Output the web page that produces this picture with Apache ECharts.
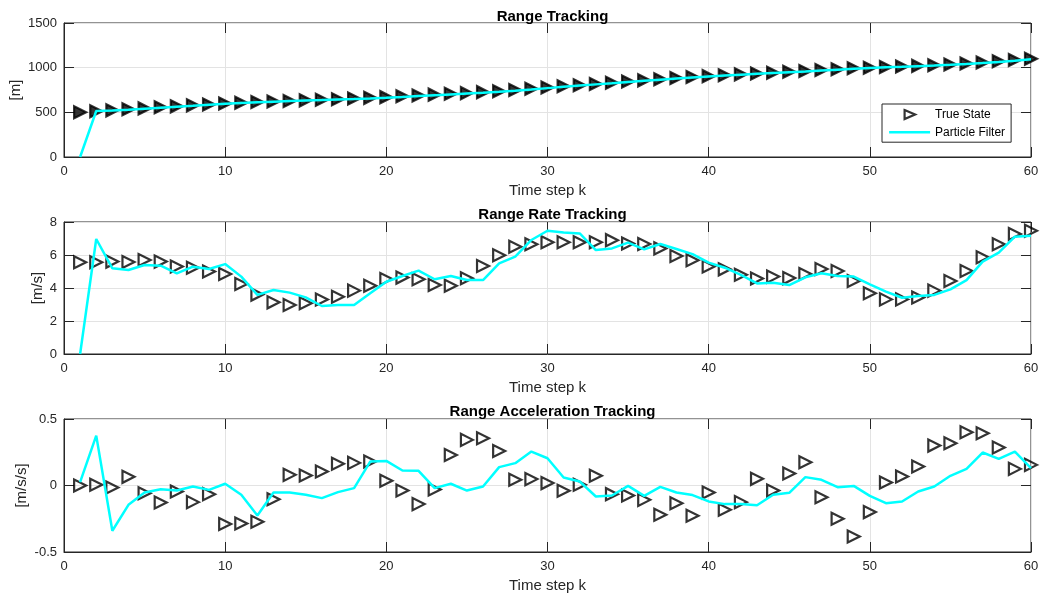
<!DOCTYPE html>
<html><head><meta charset="utf-8">
<script src="https://cdn.jsdelivr.net/npm/echarts@6/dist/echarts.min.js"></script>
<style>html,body{margin:0;padding:0;background:#fff}#c{width:1042px;height:600px}</style>
</head><body><div id="c"></div>
<script>
const steps=[1,2,3,4,5,6,7,8,9,10,11,12,13,14,15,16,17,18,19,20,21,22,23,24,25,26,27,28,29,30,31,32,33,34,35,36,37,38,39,40,41,42,43,44,45,46,47,48,49,50,51,52,53,54,55,56,57,58,59,60];
const rangeTrue=[500,512,522,534,544,556,567,578,588,598,607,615,621,627,634,640,646,654,662,670,680,689,698,707,715,726,737,750,763,777,791,804,818,832,846,858,871,884,895,905,916,925,935,944,954,963,973,983,993,1000,1007,1013,1020,1028,1036,1047,1058,1071,1085,1100];
const rangePF=[0,515,520,530,541,552,563,573,584,595,604,612,619,626,632,637,643,649,656,664,673,683,692,701,710,719,730,742,756,771,786,800,813,826,840,853,866,879,891,902,913,922,931,940,949,958,968,978,988,997,1004,1010,1017,1024,1032,1041,1052,1064,1078,1093];
const rateTrue=[5.56,5.56,5.6,5.58,5.7,5.6,5.3,5.23,5.0,4.85,4.24,3.6,3.13,2.97,3.07,3.3,3.47,3.84,4.14,4.55,4.63,4.53,4.18,4.14,4.59,5.33,5.98,6.5,6.65,6.77,6.77,6.77,6.77,6.9,6.7,6.67,6.4,5.94,5.68,5.3,5.13,4.8,4.57,4.69,4.6,4.85,5.15,5.03,4.42,3.68,3.31,3.31,3.43,3.84,4.42,5.03,5.86,6.65,7.27,7.47];
const ratePF=[0,6.97,5.19,5.09,5.39,5.35,4.89,5.29,5.15,5.45,4.69,3.58,3.88,3.72,3.43,2.91,2.97,2.97,3.68,4.38,4.73,5.05,4.53,4.73,4.48,4.48,5.49,5.9,6.91,7.47,7.37,7.31,6.3,6.4,6.75,6.34,6.67,6.36,6.05,5.54,5.23,4.79,4.28,4.32,4.18,4.65,4.89,4.73,4.69,4.22,3.78,3.41,3.52,3.58,3.92,4.48,5.6,6.14,7.11,7.17];
const accTrue=[0.0,0.005,-0.015,0.065,-0.058,-0.128,-0.045,-0.125,-0.065,-0.29,-0.285,-0.272,-0.103,0.08,0.075,0.105,0.163,0.17,0.18,0.035,-0.038,-0.14,-0.03,0.23,0.343,0.355,0.26,0.043,0.048,0.018,-0.04,0.005,0.073,-0.065,-0.075,-0.108,-0.22,-0.133,-0.228,-0.053,-0.183,-0.125,0.05,-0.038,0.09,0.175,-0.088,-0.25,-0.383,-0.2,0.023,0.068,0.143,0.3,0.318,0.4,0.393,0.285,0.125,0.155];
const accPF=[0.025,0.375,-0.34,-0.145,-0.053,-0.028,-0.038,-0.008,-0.033,0.013,-0.07,-0.225,-0.053,-0.053,-0.07,-0.095,-0.05,-0.02,0.18,0.185,0.113,0.11,-0.02,0.013,-0.038,-0.008,0.138,0.168,0.255,0.205,0.06,0.03,-0.083,-0.075,-0.003,-0.078,-0.01,-0.053,-0.072,-0.12,-0.14,-0.14,-0.148,-0.07,-0.055,0.063,0.043,-0.013,-0.003,-0.078,-0.133,-0.12,-0.045,-0.008,0.073,0.125,0.248,0.2,0.255,0.13];
const titles=['Range Tracking','Range Rate Tracking','Range Acceleration Tracking'];
const yNames=['[m]','[m/s]','[m/s/s]'];
const xName='Time step k';
const legendNames=['True State','Particle Filter'];
const yMin=[0,0,-0.5], yMax=[1500,8,0.5], yInt=[500,2,0.5];
const xMin=0,xMax=60,xInt=10;

const FONT="'Liberation Sans', Arial, Helvetica, sans-serif";
const TXT='#262626';
const grids=[{top:23,height:134},{top:222,height:132},{top:419,height:133}];
const yNameGap=[41,19,35];
const titleTop=[4,202,399];
const trueSets=[rangeTrue,rateTrue,accTrue];
const pfSets=[rangePF,ratePF,accPF];
const markerFill=['#000','rgba(255,255,255,0)','rgba(255,255,255,0)'];

const option={
  animation:false,
  backgroundColor:'#fff',
  textStyle:{fontFamily:FONT},
  title:titles.map((t,i)=>({text:t,left:547.5,textAlign:'center',top:titleTop[i],
    textStyle:{fontFamily:FONT,fontSize:15,fontWeight:'bold',color:'#000'}})),
  grid:grids.map(g=>({left:64,right:11,top:g.top,height:g.height,show:true,borderColor:TXT,borderWidth:1,
    backgroundColor:'#fff',containLabel:false,outerBoundsMode:'none'})),
  legend:{
    data:[
      {name:legendNames[0],icon:'path://M0,0L0,0M15.5,1L26,5.5L15.5,10Z M41,11L41,11',
        itemStyle:{color:'rgba(255,255,255,0)',borderColor:'#000',borderWidth:2.2}},
      {name:legendNames[1],icon:'path://M0,0L0,0M0,4.3L41,4.3L41,6.7L0,6.7Z M41,11L41,11',
        itemStyle:{color:'#00ffff',borderWidth:0}}
    ],
    orient:'vertical',left:882,top:104,
    itemWidth:41,itemHeight:11,itemGap:5,
    padding:[4,6,4,6],
    borderColor:TXT,borderWidth:1,backgroundColor:'#fff',
    textStyle:{fontFamily:FONT,fontSize:12,color:'#000'},
    selectedMode:false
  },
  xAxis:[],yAxis:[],series:[]
};
for(let i=0;i<3;i++){
  option.xAxis.push({type:'value',gridIndex:i,min:xMin,max:xMax,interval:xInt,position:'bottom',
    name:xName,nameLocation:'middle',nameGap:26,nameMoveOverlap:false,nameTextStyle:{fontFamily:FONT,fontSize:15,color:TXT},
    axisLine:{show:true,onZero:false,lineStyle:{color:TXT,width:1}},
    axisTick:{show:true,inside:true,length:10,lineStyle:{color:TXT,width:1}},
    axisLabel:{fontFamily:FONT,fontSize:13,color:TXT,margin:8},
    splitLine:{show:true,lineStyle:{color:'#e3e3e3',width:1}}});
  option.xAxis.push({type:'value',gridIndex:i,min:xMin,max:xMax,interval:xInt,position:'top',
    axisLine:{show:false,onZero:false},axisTick:{show:true,inside:true,length:10,lineStyle:{color:TXT,width:1}},
    axisLabel:{show:false},splitLine:{show:false}});
  option.yAxis.push({type:'value',gridIndex:i,min:yMin[i],max:yMax[i],interval:yInt[i],position:'left',
    name:yNames[i],nameLocation:'middle',nameGap:yNameGap[i],nameRotate:90,nameMoveOverlap:false,
    nameTextStyle:{fontFamily:FONT,fontSize:15,color:TXT},
    axisLine:{show:true,onZero:false,lineStyle:{color:TXT,width:1}},
    axisTick:{show:true,inside:true,length:10,lineStyle:{color:TXT,width:1}},
    axisLabel:{fontFamily:FONT,fontSize:13,color:TXT,margin:7,formatter:v=>String(v)},
    splitLine:{show:true,lineStyle:{color:'#e3e3e3',width:1}}});
  option.yAxis.push({type:'value',gridIndex:i,min:yMin[i],max:yMax[i],interval:yInt[i],position:'right',
    axisLine:{show:false,onZero:false},axisTick:{show:true,inside:true,length:10,lineStyle:{color:TXT,width:1}},
    axisLabel:{show:false},splitLine:{show:false}});
  option.series.push({name:legendNames[0],type:'scatter',xAxisIndex:2*i,yAxisIndex:2*i,
    data:steps.map((k,j)=>[k,trueSets[i][j]]),
    symbol:'triangle',symbolRotate:-90,symbolSize:12,clip:false,
    itemStyle:{color:markerFill[i],borderColor:'#000',borderWidth:2.2},z:3});
  option.series.push({name:legendNames[1],type:'line',xAxisIndex:2*i,yAxisIndex:2*i,
    data:steps.map((k,j)=>[k,pfSets[i][j]]),
    symbol:'none',lineStyle:{color:'#00ffff',width:2.5},itemStyle:{color:'#00ffff'},z:4});
}
const chart=echarts.init(document.getElementById('c'),null,{renderer:'canvas'});
chart.setOption(option);
</script></body></html>
